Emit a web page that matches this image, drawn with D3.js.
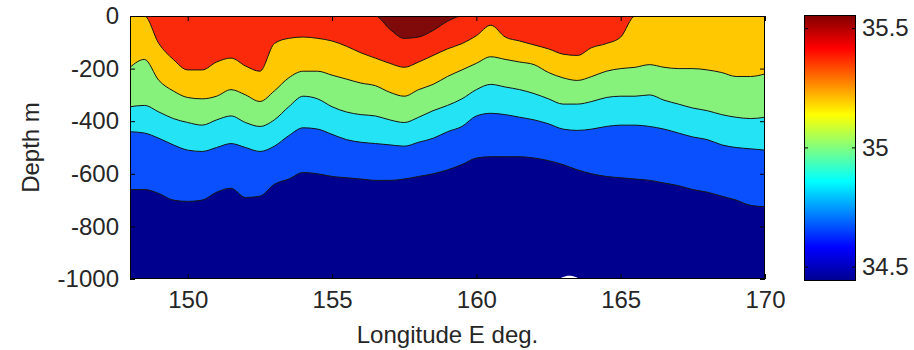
<!DOCTYPE html>
<html>
<head>
<meta charset="utf-8">
<script src="https://cdn.jsdelivr.net/npm/d3@7"></script>
<style>
  body { margin: 0; background: #fff; }
  svg { display: block; font-family: "Liberation Sans", Arial, sans-serif; }
</style>
</head>
<body>
<div id="chart"></div>
<script>
// longitude grid (deg E) shared by every contour line
const lon = [148, 148.5, 149, 149.5, 150, 150.5, 151, 151.5, 152, 152.5,
  153, 153.5, 154, 154.5, 155, 155.5, 156, 156.5, 157, 157.5,
  158, 158.5, 159, 159.5, 160, 160.5, 161, 161.5, 162, 162.5,
  163, 163.5, 164, 164.5, 165, 165.5, 166, 166.5, 167, 167.5,
  168, 168.5, 169, 169.5, 170];

// depth (m) of the lower edge of each salinity band
const coreBase = [0, 0, 0, 0, 0, 0, 0, 0, 0, 0,
  0, 0, 0, 0, 0, 0, 0, 0, -50, -85,
  -80, -55, -20, 0, 0, 0, 0, 0, 0, 0,
  0, 0, 0, 0, 0, 0, 0, 0, 0, 0,
  0, 0, 0, 0, 0];
const redBase = [0, 0, -105, -165, -205, -205, -175, -160, -190, -210,
  -105, -85, -80, -85, -95, -115, -140, -160, -180, -195,
  -175, -150, -125, -105, -75, -35, -80, -95, -110, -125,
  -145, -150, -120, -105, -80, 0, 0, 0, 0, 0,
  0, 0, 0, 0, 0];
const yellowBase = [-195, -165, -245, -285, -310, -315, -305, -280, -300, -325,
  -285, -235, -210, -210, -225, -240, -255, -265, -290, -305,
  -280, -260, -230, -205, -180, -155, -165, -175, -185, -215,
  -235, -245, -230, -210, -200, -195, -185, -195, -200, -200,
  -205, -215, -230, -230, -220];
const greenBase = [-345, -340, -365, -390, -405, -415, -395, -380, -405, -420,
  -395, -345, -305, -315, -345, -365, -375, -380, -395, -405,
  -385, -360, -340, -315, -280, -260, -270, -280, -295, -315,
  -335, -335, -325, -310, -305, -305, -300, -320, -335, -350,
  -360, -375, -385, -390, -385];
const cyanBase = [-440, -445, -465, -490, -510, -515, -500, -485, -500, -515,
  -495, -455, -425, -430, -450, -470, -480, -485, -490, -495,
  -480, -465, -440, -420, -380, -370, -375, -385, -395, -410,
  -430, -435, -430, -420, -415, -415, -420, -430, -445, -460,
  -470, -490, -500, -505, -510];
const blueBase = [-660, -660, -675, -700, -705, -700, -670, -655, -690, -685,
  -640, -620, -595, -600, -610, -615, -620, -625, -625, -620,
  -610, -600, -585, -565, -540, -535, -535, -535, -540, -550,
  -565, -585, -600, -610, -615, -620, -625, -635, -645, -660,
  -670, -685, -700, -720, -725];

// small hole with no data at the bottom
const gapLon = [162.85, 163.1, 163.35, 163.6];
const gapTop = [-1000, -987, -988, -1000];

const xTicks = [150, 155, 160, 165, 170];
const yTicks = [0, -200, -400, -600, -800, -1000];
const cbTicks = [34.5, 35, 35.5];

const bandColors = ['#fa2a0a', '#ffc800', '#86f27c', '#23e3f5', '#0a50ff', '#00008f'];
const coreColor = '#800a0a';
const jetColors = ['#00008f', '#0000ff', '#00ffff', '#ffff00', '#ff0000', '#800000'];
const jetOffsets = [0, 0.125, 0.375, 0.625, 0.875, 1];

const width = 914;
const height = 350;
const plot = { left: 130, top: 16, right: 765, bottom: 279 };
const bar = { left: 804, right: 856, top: 15, bottom: 281 };

const x = d3.scaleLinear().domain([148, 170]).range([plot.left, plot.right]);
const y = d3.scaleLinear().domain([0, -1000]).range([plot.top, plot.bottom]);
const cb = d3.scaleLinear().domain([34.44, 35.555]).range([bar.bottom, bar.top]);

// plain labels: hyphen minus, no thousands separator
const plain = d => String(d);

const svg = d3.select('#chart')
  .append('svg')
    .attr('width', width)
    .attr('height', height);

const defs = svg.append('defs');
defs.append('clipPath')
    .attr('id', 'plot-clip')
  .append('rect')
    .attr('x', plot.left)
    .attr('y', plot.top)
    .attr('width', plot.right - plot.left)
    .attr('height', plot.bottom - plot.top);

const grad = defs.append('linearGradient')
  .attr('id', 'jet')
  .attr('x1', 0).attr('y1', 1)
  .attr('x2', 0).attr('y2', 0);
grad.selectAll('stop')
    .data(jetColors)
  .enter().append('stop')
    .attr('offset', (d, i) => jetOffsets[i])
    .attr('stop-color', d => d);

const field = svg.append('g').attr('clip-path', 'url(#plot-clip)');

const curve = d3.curveMonotoneX;
const below = arr => d3.area()
  .curve(curve)
  .x((d, i) => x(lon[i]))
  .y0(y(-1000))
  .y1((d, i) => y(arr[i]));

// top band covers everything, each next band is painted below its edge
field.append('rect')
  .attr('x', plot.left)
  .attr('y', plot.top)
  .attr('width', plot.right - plot.left)
  .attr('height', plot.bottom - plot.top)
  .attr('fill', bandColors[0]);

const edges = [redBase, yellowBase, greenBase, cyanBase, blueBase];
edges.forEach((arr, i) => {
  field.append('path')
    .attr('fill', bandColors[i + 1])
    .attr('d', below(arr)(arr));
});

const core = d3.area()
  .curve(curve)
  .x((d, i) => x(lon[i]))
  .y0(y(0))
  .y1((d, i) => y(coreBase[i]));
field.append('path')
  .attr('fill', coreColor)
  .attr('d', core(coreBase));

field.append('path')
  .attr('fill', '#fff')
  .attr('d', d3.area()
    .curve(d3.curveBasis)
    .x((d, i) => x(gapLon[i]))
    .y0(y(-1000))
    .y1(d => y(d))(gapTop));

// contour lines
const line = arr => d3.line()
  .curve(curve)
  .x((d, i) => x(lon[i]))
  .y((d, i) => y(arr[i]));

[coreBase, ...edges].forEach(arr => {
  field.append('path')
    .attr('fill', 'none')
    .attr('stroke', '#151515')
    .attr('stroke-width', 1)
    .attr('d', line(arr)(arr));
});

// axes, ticks pointing inward like the original
const styleAxis = g => {
  g.select('.domain').remove();
  g.selectAll('line').attr('stroke', '#000');
  g.selectAll('text')
    .attr('font-size', 24)
    .attr('font-family', '"Liberation Sans", Arial, sans-serif')
    .attr('fill', '#262626');
};

svg.append('g')
  .attr('transform', `translate(0, ${plot.bottom})`)
  .call(d3.axisBottom(x).tickValues(xTicks).tickSize(-5).tickPadding(12).tickFormat(plain))
  .call(styleAxis);

svg.append('g')
  .attr('transform', `translate(0, ${plot.top})`)
  .call(d3.axisTop(x).tickValues(xTicks).tickSize(-5).tickFormat(''))
  .call(styleAxis);

svg.append('g')
  .attr('transform', `translate(${plot.left}, 0)`)
  .call(d3.axisLeft(y).tickValues(yTicks).tickSize(-5).tickPadding(11).tickFormat(plain))
  .call(styleAxis);

svg.append('g')
  .attr('transform', `translate(${plot.right}, 0)`)
  .call(d3.axisRight(y).tickValues(yTicks).tickSize(-5).tickFormat(''))
  .call(styleAxis);

svg.append('rect')
  .attr('x', plot.left + 0.5)
  .attr('y', plot.top + 0.5)
  .attr('width', plot.right - plot.left - 1)
  .attr('height', plot.bottom - plot.top - 1)
  .attr('fill', 'none')
  .attr('stroke', '#000');

svg.append('text')
  .attr('x', x(159))
  .attr('y', 343)
  .attr('text-anchor', 'middle')
  .attr('font-size', 24)
  .attr('fill', '#262626')
  .text('Longitude E deg.');

svg.append('text')
  .attr('transform', `translate(39, ${(plot.top + plot.bottom) / 2}) rotate(-90)`)
  .attr('text-anchor', 'middle')
  .attr('font-size', 24)
  .attr('fill', '#262626')
  .text('Depth m');

// colorbar
svg.append('rect')
  .attr('x', bar.left)
  .attr('y', bar.top)
  .attr('width', bar.right - bar.left)
  .attr('height', bar.bottom - bar.top)
  .attr('fill', 'url(#jet)');

svg.append('g')
  .attr('transform', `translate(${bar.right}, 0)`)
  .call(d3.axisRight(cb).tickValues(cbTicks).tickSize(-4).tickPadding(6).tickFormat(plain))
  .call(styleAxis);

svg.append('g')
  .attr('transform', `translate(${bar.left}, 0)`)
  .call(d3.axisLeft(cb).tickValues(cbTicks).tickSize(-4).tickFormat(''))
  .call(styleAxis);

svg.append('rect')
  .attr('x', bar.left + 0.5)
  .attr('y', bar.top + 0.5)
  .attr('width', bar.right - bar.left - 1)
  .attr('height', bar.bottom - bar.top - 1)
  .attr('fill', 'none')
  .attr('stroke', '#000');
</script>
</body>
</html>
